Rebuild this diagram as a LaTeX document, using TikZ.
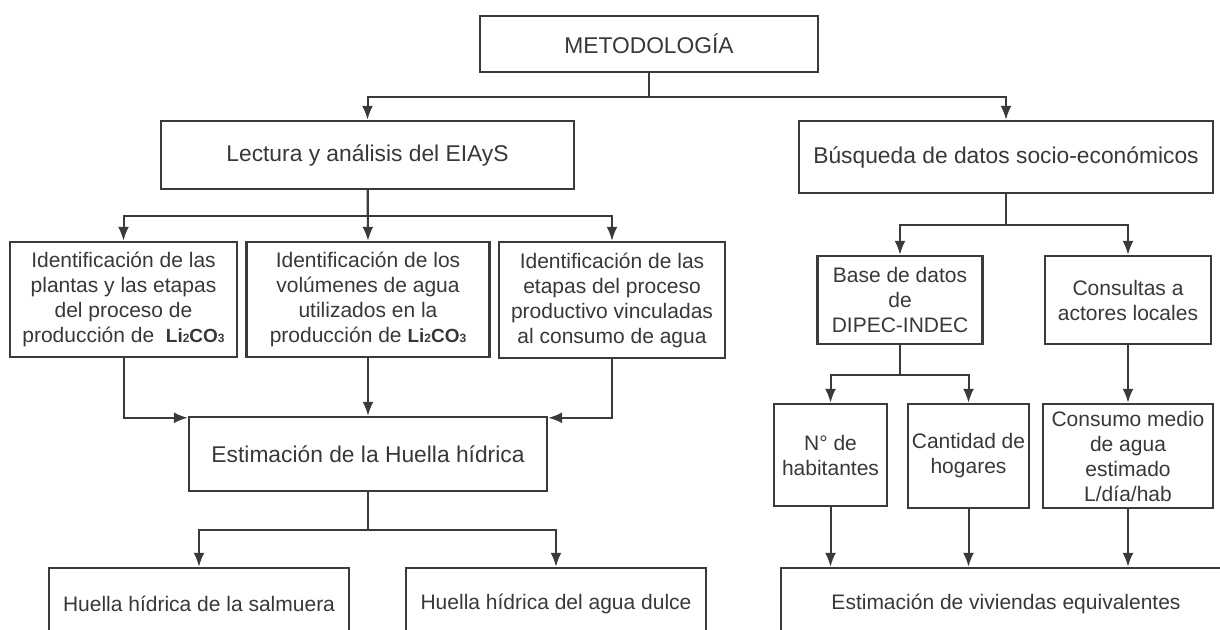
\documentclass[tikz,border=0pt]{standalone}
\usepackage{fontspec}
\setmainfont{Liberation Sans}
\usetikzlibrary{arrows.meta}
\definecolor{linie}{HTML}{3A3A3A}
\definecolor{schrift}{HTML}{383838}
\newcommand\gross{\fontsize{11.4}{13.7}\selectfont}
\newcommand\lico{{\fontsize{9.5}{12.5}\selectfont\bfseries Li{\fontsize{6}{7}\selectfont 2}CO{\fontsize{6}{7}\selectfont 3}}}
\begin{document}
\begin{tikzpicture}[>={Latex[length=7pt,width=5.5pt]},x=0.5pt,y=-0.5pt,
	kasten/.style={draw=linie,line width=1.2pt,align=center,text=schrift,
		inner sep=0pt,font=\fontsize{10.5}{12.5}\selectfont},
	pfeil/.style={->,draw=linie,line width=1pt}]
\useasboundingbox (0,0) rectangle (1220,630);
\clip (0,0) rectangle (1220,630);
\def\kasten#1#2#3#4#5#6{
	\node[kasten,minimum width=#4*0.5pt,minimum height=#5*0.5pt] (#1) at (#2,#3) {#6};
}
\kasten{metodo}{649}{44}{338}{56}{\gross METODOLOGÍA}
\kasten{lectura}{367.5}{155}{413}{68}{\gross Lectura y análisis del EIAyS}
\kasten{busqueda}{1006}{157}{414}{72}{\gross Búsqueda de datos socio-económicos}
\kasten{ident1}{123.5}{299.5}{227}{115}{Identificación de las\\plantas y las etapas\\del proceso de\\producción de~ \lico}
\kasten{ident2}{368}{299.5}{243}{115}{Identificación de los\\volúmenes de agua\\utilizados en la\\producción de \lico}
\kasten{ident3}{612}{300}{226}{116}{Identificación de las\\etapas del proceso\\productivo vinculadas\\al consumo de agua}
\kasten{estim}{368}{454}{358}{74}{\gross Estimación de la Huella hídrica}
\kasten{salmuera}{199}{604}{300}{72}{Huella hídrica de la salmuera}
\kasten{dulce}{556}{604}{300}{72}{Huella hídrica del agua dulce}
\kasten{base}{900}{300}{165}{88}{Base de datos\\de\\DIPEC-INDEC}
\kasten{consultas}{1128}{300}{166}{88}{Consultas a\\actores locales}
\kasten{habit}{830.5}{455}{113}{102}{N° de\\habitantes}
\kasten{hogares}{968.5}{456}{121}{104}{Cantidad de\\hogares}
\kasten{consumo}{1128}{456}{170}{104}{Consumo medio\\de agua\\estimado\\L/día/hab}
\kasten{viviendas}{1006}{604}{450}{72}{Estimación de viviendas equivalentes}
\draw[pfeil] (metodo.south) -- ++(0,24) -| (lectura.north);
\draw[pfeil] (metodo.south) -- ++(0,24) -| (busqueda.north);
\draw[pfeil] (lectura.south) -- ++(0,26) -| (ident1.north);
\draw[pfeil] (lectura.south) -- (ident2.north);
\draw[pfeil] (lectura.south) -- ++(0,26) -| (ident3.north);
\draw[pfeil] (ident1.south) |- ([yshift=-1pt]estim.north west);
\draw[pfeil] (ident2.south) -- (estim.north);
\draw[pfeil] (ident3.south) |- ([yshift=-1pt]estim.north east);
\draw[pfeil] (estim.south) -- ++(0,38) -| (salmuera.north);
\draw[pfeil] (estim.south) -- ++(0,38) -| (dulce.north);
\draw[pfeil] (busqueda.south) -- ++(0,31) -| (base.north);
\draw[pfeil] (busqueda.south) -- ++(0,31) -| (consultas.north);
\draw[pfeil] (base.south) -- ++(0,30) -| (habit.north);
\draw[pfeil] (base.south) -- ++(0,30) -| (hogares.north);
\draw[pfeil] (consultas.south) -- (consumo.north);
\draw[pfeil] (habit.south) -- (habit.south |- viviendas.north);
\draw[pfeil] (hogares.south) -- (hogares.south |- viviendas.north);
\draw[pfeil] (consumo.south) -- (consumo.south |- viviendas.north);
\end{tikzpicture}
\end{document}
